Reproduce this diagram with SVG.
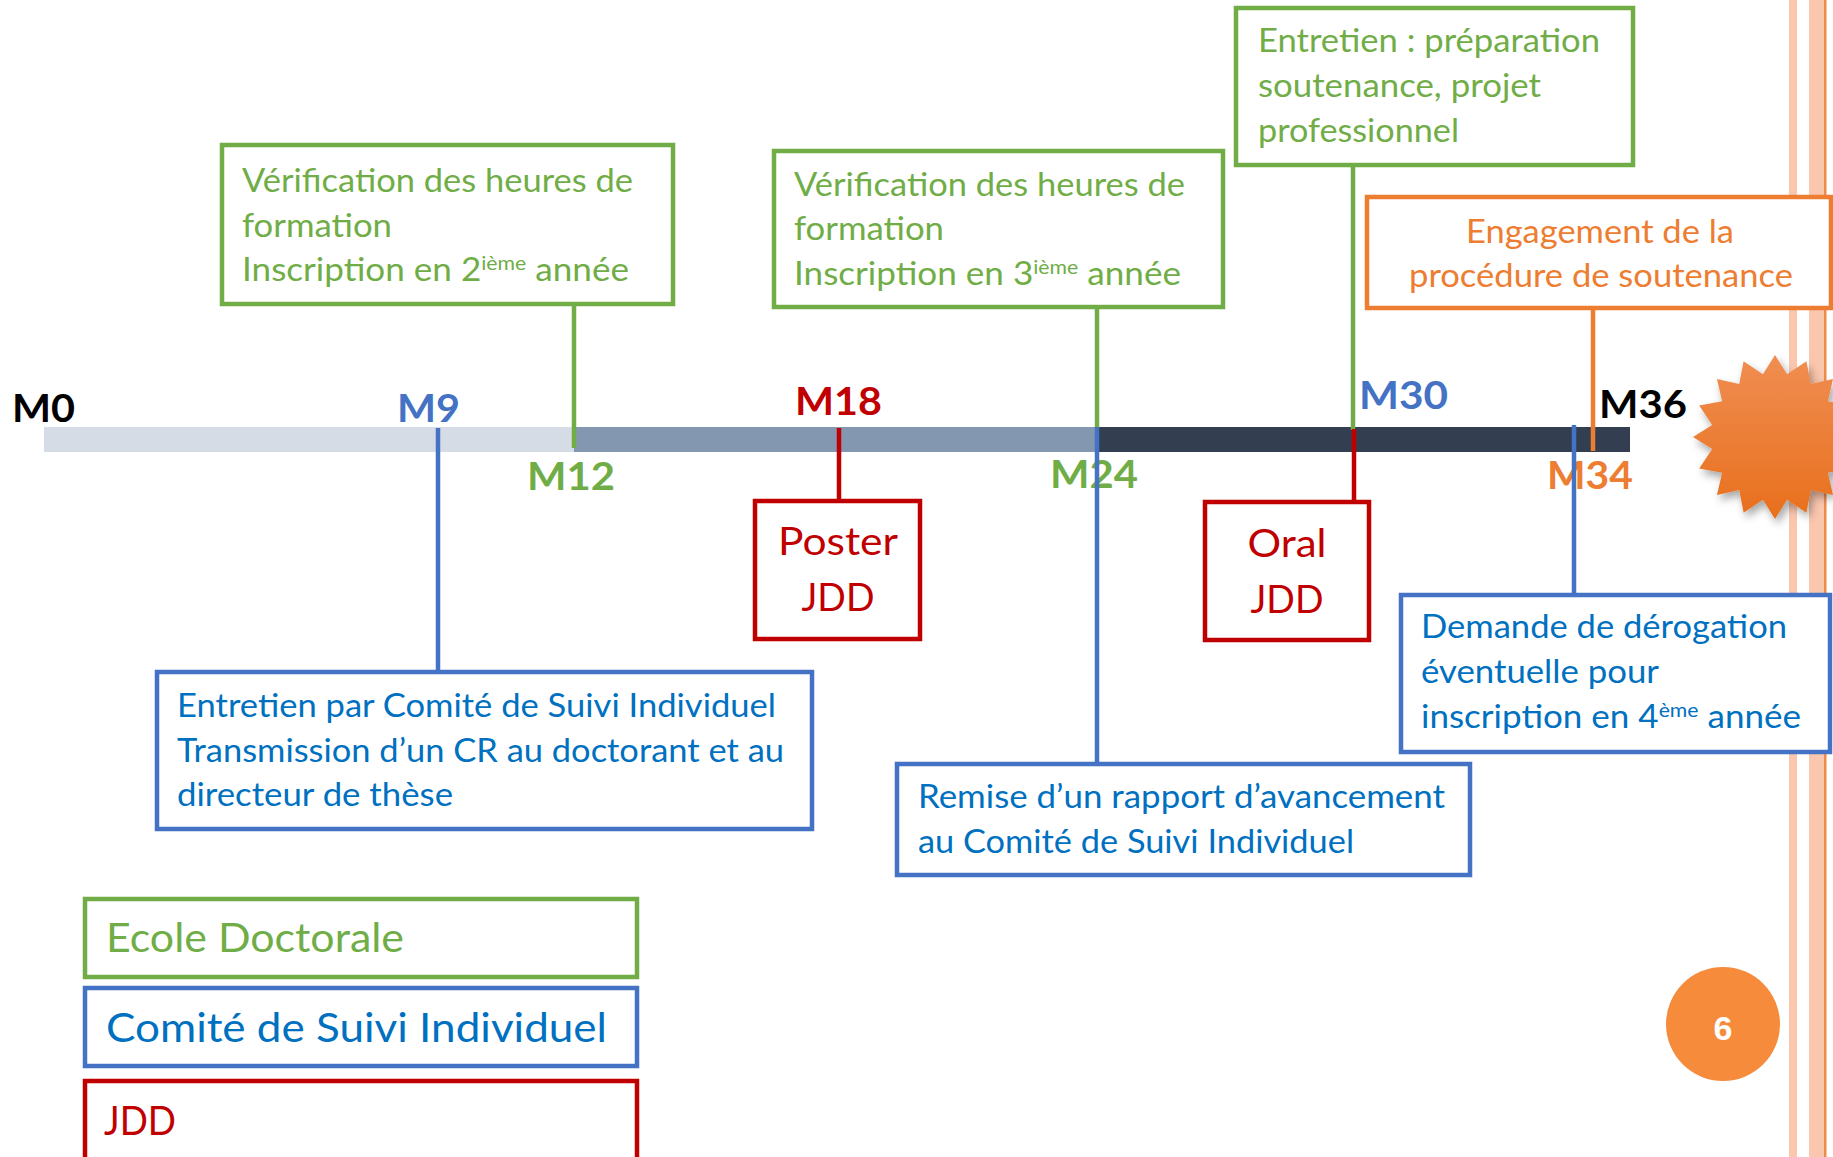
<svg xmlns="http://www.w3.org/2000/svg" width="1833" height="1157" viewBox="0 0 1833 1157">
<style>
  text { font-family: "Lato", "Liberation Sans", "DejaVu Sans", sans-serif; }
  .box { fill: #ffffff; stroke-width: 4.5; }
  .g { stroke: #70ad47; }
  .b { stroke: #4472c4; }
  .r { stroke: #c00000; }
  .o { stroke: #ed7d31; }
  .tg { fill: #70ad47; font-size: 33px; }
  .tb { fill: #0070c0; font-size: 33px; }
  .to { fill: #ed7d31; font-size: 33px; }
  .tr { fill: #c00000; font-size: 39px; }
  .sup { font-size: 20px; }
  .ms { font-size: 39px; font-weight: bold; }
  .leg { font-size: 40px; }
  .conn line { stroke-width: 4.5; fill: none; }
  .stripe { fill: #f9b898; opacity: 0.8; }
</style>
<defs>
  <linearGradient id="starGrad" x1="0" y1="0" x2="0" y2="1">
    <stop offset="0" stop-color="#f08e52"/>
    <stop offset="1" stop-color="#e86f1c"/>
  </linearGradient>
  <filter id="shadow" x="-20%" y="-20%" width="140%" height="140%">
    <feDropShadow dx="3" dy="5" stdDeviation="4" flood-color="#000000" flood-opacity="0.35"/>
  </filter>
</defs>
<rect x="0" y="0" width="1833" height="1157" fill="#ffffff"/>

<g id="decor">
  <rect class="stripe" x="1789" y="0" width="8" height="1157"/>
  <rect class="stripe" x="1809" y="0" width="15" height="1157"/>
  <rect x="1824" y="0" width="2.5" height="1157" fill="#ef8a4c"/>
</g>

<g id="timeline">
  <rect x="44" y="427" width="530" height="25" fill="#d6dce5"/>
  <rect x="574" y="427" width="523" height="25" fill="#8497b0"/>
  <rect x="1097" y="427" width="533" height="25" fill="#333f50"/>
</g>

<g id="milestones">
  <text class="ms" x="12" y="422" textLength="63" lengthAdjust="spacingAndGlyphs" fill="#000000">M0</text>
  <text class="ms" x="397" y="422" textLength="63" lengthAdjust="spacingAndGlyphs" fill="#4472c4">M9</text>
  <text class="ms" x="527" y="490" textLength="88" lengthAdjust="spacingAndGlyphs" fill="#70ad47">M12</text>
  <text class="ms" x="795" y="415" textLength="87" lengthAdjust="spacingAndGlyphs" fill="#c00000">M18</text>
  <text class="ms" x="1050" y="488" textLength="88" lengthAdjust="spacingAndGlyphs" fill="#70ad47">M24</text>
  <text class="ms" x="1359" y="409" textLength="89" lengthAdjust="spacingAndGlyphs" fill="#4472c4">M30</text>
  <text class="ms" x="1547" y="489" textLength="86" lengthAdjust="spacingAndGlyphs" fill="#ed7d31">M34</text>
  <text class="ms" x="1599" y="418" textLength="88" lengthAdjust="spacingAndGlyphs" fill="#000000">M36</text>
</g>

<g id="connectors" class="conn">
  <line class="b" x1="438" y1="428" x2="438" y2="672"/>
  <line class="g" x1="574" y1="304" x2="574" y2="448"/>
  <line class="r" x1="839" y1="428" x2="839" y2="501"/>
  <line class="g" x1="1097" y1="307" x2="1097" y2="428"/>
  <line class="b" x1="1097" y1="427" x2="1097" y2="764"/>
  <line class="g" x1="1353" y1="165" x2="1353" y2="430"/>
  <line class="r" x1="1354" y1="429" x2="1354" y2="502"/>
  <line class="o" x1="1593" y1="308" x2="1593" y2="451"/>
  <line class="b" x1="1574" y1="425" x2="1574" y2="595"/>
</g>

<g id="ed-m12">
  <rect class="box g" x="222" y="145" width="451" height="159"/>
  <text class="tg" x="242" y="192" textLength="391" lengthAdjust="spacingAndGlyphs">Vérification des heures de</text>
  <text class="tg" x="242" y="237" textLength="150" lengthAdjust="spacingAndGlyphs">formation</text>
  <text class="tg" x="242" y="281" textLength="387" lengthAdjust="spacingAndGlyphs">Inscription en 2<tspan class="sup" dy="-11">ième</tspan><tspan dy="11"> année</tspan></text>
</g>

<g id="ed-m24">
  <rect class="box g" x="774" y="151" width="449" height="156"/>
  <text class="tg" x="794" y="196" textLength="391" lengthAdjust="spacingAndGlyphs">Vérification des heures de</text>
  <text class="tg" x="794" y="240" textLength="150" lengthAdjust="spacingAndGlyphs">formation</text>
  <text class="tg" x="794" y="285" textLength="387" lengthAdjust="spacingAndGlyphs">Inscription en 3<tspan class="sup" dy="-11">ième</tspan><tspan dy="11"> année</tspan></text>
</g>

<g id="ed-m30">
  <rect class="box g" x="1236" y="8" width="397" height="157"/>
  <text class="tg" x="1258" y="52" textLength="342" lengthAdjust="spacingAndGlyphs">Entretien : préparation</text>
  <text class="tg" x="1258" y="97" textLength="283" lengthAdjust="spacingAndGlyphs">soutenance, projet</text>
  <text class="tg" x="1258" y="142" textLength="201" lengthAdjust="spacingAndGlyphs">professionnel</text>
</g>

<g id="soutenance-m34">
  <rect class="box o" x="1367" y="197" width="464" height="111"/>
  <text class="to" x="1600" y="243" text-anchor="middle" textLength="268" lengthAdjust="spacingAndGlyphs">Engagement de la</text>
  <text class="to" x="1601" y="287" text-anchor="middle" textLength="384" lengthAdjust="spacingAndGlyphs">procédure de soutenance</text>
</g>

<g id="csi-m9">
  <rect class="box b" x="157" y="672" width="655" height="157"/>
  <text class="tb" x="177" y="717" textLength="599" lengthAdjust="spacingAndGlyphs">Entretien par Comité de Suivi Individuel</text>
  <text class="tb" x="177" y="762" textLength="607" lengthAdjust="spacingAndGlyphs">Transmission d’un CR au doctorant et au</text>
  <text class="tb" x="177" y="806" textLength="276" lengthAdjust="spacingAndGlyphs">directeur de thèse</text>
</g>

<g id="csi-m24">
  <rect class="box b" x="897" y="764" width="573" height="111"/>
  <text class="tb" x="918" y="808" textLength="527" lengthAdjust="spacingAndGlyphs">Remise d’un rapport d’avancement</text>
  <text class="tb" x="918" y="853" textLength="436" lengthAdjust="spacingAndGlyphs">au Comité de Suivi Individuel</text>
</g>

<g id="csi-m34">
  <rect class="box b" x="1401" y="595" width="429" height="157"/>
  <text class="tb" x="1421" y="638" textLength="366" lengthAdjust="spacingAndGlyphs">Demande de dérogation</text>
  <text class="tb" x="1421" y="683" textLength="238" lengthAdjust="spacingAndGlyphs">éventuelle pour</text>
  <text class="tb" x="1421" y="728" textLength="380" lengthAdjust="spacingAndGlyphs">inscription en 4<tspan class="sup" dy="-11">ème</tspan><tspan dy="11"> année</tspan></text>
</g>

<g id="jdd-m18">
  <rect class="box r" x="755" y="501" width="165" height="138"/>
  <text class="tr" x="838" y="555" text-anchor="middle" textLength="120" lengthAdjust="spacingAndGlyphs">Poster</text>
  <text class="tr" x="838" y="611" text-anchor="middle" textLength="73" lengthAdjust="spacingAndGlyphs">JDD</text>
</g>

<g id="jdd-m30">
  <rect class="box r" x="1205" y="502" width="164" height="138"/>
  <text class="tr" x="1287" y="557" text-anchor="middle" textLength="79" lengthAdjust="spacingAndGlyphs">Oral</text>
  <text class="tr" x="1287" y="613" text-anchor="middle" textLength="73" lengthAdjust="spacingAndGlyphs">JDD</text>
</g>

<g id="legend-ed">
  <rect class="box g" x="85" y="899" width="552" height="78"/>
  <text class="leg" x="106" y="952" fill="#70ad47" textLength="298" lengthAdjust="spacingAndGlyphs">Ecole Doctorale</text>
</g>
<g id="legend-csi">
  <rect class="box b" x="85" y="988" width="552" height="78"/>
  <text class="leg" x="106" y="1042" fill="#0070c0" textLength="501" lengthAdjust="spacingAndGlyphs">Comité de Suivi Individuel</text>
</g>
<g id="legend-jdd">
  <rect class="box r" x="85" y="1081" width="552" height="90"/>
  <text class="leg" x="104" y="1135" fill="#c00000" textLength="72" lengthAdjust="spacingAndGlyphs">JDD</text>
</g>

<g id="star" filter="url(#shadow)">
  <polygon fill="url(#starGrad)" points="1775.0,355.0 1787.1,374.2 1806.4,361.2 1810.8,384.0 1833.0,379.0 1827.9,401.3 1850.8,405.6 1837.8,424.9 1857.0,437.0 1837.8,449.1 1850.8,468.4 1827.9,472.7 1833.0,495.0 1810.8,490.0 1806.4,512.8 1787.1,499.8 1775.0,519.0 1762.9,499.8 1743.6,512.8 1739.2,490.0 1717.0,495.0 1722.1,472.7 1699.2,468.4 1712.2,449.1 1693.0,437.0 1712.2,424.9 1699.2,405.6 1722.1,401.3 1717.0,379.0 1739.2,384.0 1743.6,361.2 1762.9,374.2"/>
</g>

<g id="page-number">
  <circle cx="1723" cy="1024" r="57" fill="#f68b3b"/>
  <text x="1723" y="1040" text-anchor="middle" font-size="34" font-weight="bold" fill="#ffffff" style="font-family:'Liberation Sans', Arial, sans-serif">6</text>
</g>
</svg>
